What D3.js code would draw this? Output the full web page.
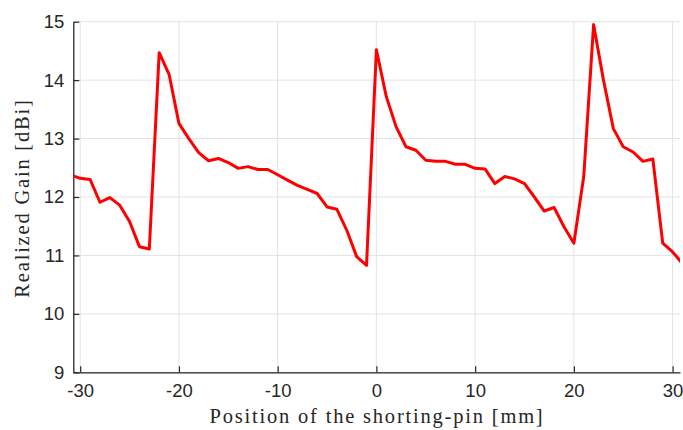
<!DOCTYPE html>
<html><head><meta charset="utf-8">
<script src="https://cdn.jsdelivr.net/npm/d3@7"></script>
<style>body{margin:0;background:#fff}svg{display:block}</style>
</head><body>
<script>
const positions = [-31,-30,-29,-28,-27,-26,-25,-24,-23,-22,-21,-20,-19,-18,-17,-16,-15,-14,-13,-12,-11,-10,-9,-8,-7,-6,-5,-4,-3,-2,-1,0,1,2,3,4,5,6,7,8,9,10,11,12,13,14,15,16,17,18,19,20,21,22,23,24,25,26,27,28,29,30,31];
const gain = [12.38,12.32,12.30,11.91,11.99,11.86,11.58,11.15,11.11,14.47,14.10,13.26,13.00,12.76,12.62,12.66,12.59,12.49,12.52,12.47,12.47,12.38,12.29,12.20,12.13,12.06,11.83,11.79,11.43,10.98,10.83,14.52,13.72,13.20,12.86,12.80,12.63,12.61,12.61,12.56,12.56,12.49,12.48,12.23,12.35,12.31,12.23,12.00,11.76,11.82,11.49,11.21,12.35,14.95,14.00,13.17,12.86,12.77,12.61,12.65,11.21,11.06,10.86];
const xTicks = [-30,-20,-10,0,10,20,30];
const yTicks = [9,10,11,12,13,14,15];

const W = 683, H = 430;
const m = {left:73.3, right:3, top:21.7, bottom:57.7};
const svg = d3.select("body").append("svg").attr("width",W).attr("height",H);
const x = d3.scaleLinear().domain([-30.7,30.75]).range([m.left, W-m.right]);
const y = d3.scaleLinear().domain([9,15]).range([H-m.bottom, m.top]);

svg.append("defs").append("clipPath").attr("id","clip")
  .append("rect").attr("x",m.left).attr("y",0).attr("width",W-m.right-m.left).attr("height",H);

const grid = svg.append("g");
grid.selectAll(".gx").data(xTicks).join("line")
  .attr("x1",d=>x(d)).attr("x2",d=>x(d)).attr("y1",y(9)).attr("y2",y(15))
  .attr("stroke","#e3e3e3").attr("stroke-width",1);
grid.selectAll(".gy").data(yTicks).join("line")
  .attr("x1",x.range()[0]).attr("x2",x.range()[1]).attr("y1",d=>y(d)).attr("y2",d=>y(d))
  .attr("stroke","#e3e3e3").attr("stroke-width",1);

const fontTick = "'Liberation Sans', Arial, sans-serif";
const xAxis = svg.append("g").attr("transform",`translate(0,${y(9)})`)
  .call(d3.axisBottom(x).tickValues(xTicks).tickSize(-6).tickPadding(12).tickSizeOuter(0).tickFormat(d3.format("d")));
const yAxis = svg.append("g").attr("transform",`translate(${m.left},0)`)
  .call(d3.axisLeft(y).tickValues(yTicks).tickSize(-6).tickPadding(9).tickSizeOuter(0).tickFormat(d3.format("d")));
[xAxis,yAxis].forEach(a=>{
  a.select(".domain").attr("stroke","#262626").attr("stroke-width",1.3);
  a.selectAll(".tick line").attr("stroke","#262626").attr("stroke-width",1.2);
  a.selectAll(".tick text").attr("fill","#262626").style("font-family",fontTick).style("font-size","18.5px");
});
xAxis.selectAll(".tick text").text(d=>d<0?"-"+Math.abs(d):d);

const line = d3.line().x((d,i)=>x(positions[i])).y(d=>y(d));
svg.append("path").datum(gain).attr("clip-path","url(#clip)")
  .attr("d",line).attr("fill","none").attr("stroke","#ff0000").attr("stroke-width",3).attr("stroke-linejoin","round");

const fontLabel = "'Liberation Serif', 'Times New Roman', serif";
svg.append("text").attr("x",377).attr("y",423).attr("text-anchor","middle")
  .style("font-family",fontLabel).style("font-size","20.5px").style("letter-spacing","1.8px").attr("fill","#262626")
  .text("Position of the shorting-pin [mm]");
svg.append("text").attr("transform","translate(29,198) rotate(-90)").attr("text-anchor","middle")
  .style("font-family",fontLabel).style("font-size","20.5px").style("letter-spacing","1.8px").attr("fill","#262626")
  .text("Realized Gain [dBi]");
</script>
</body></html>
